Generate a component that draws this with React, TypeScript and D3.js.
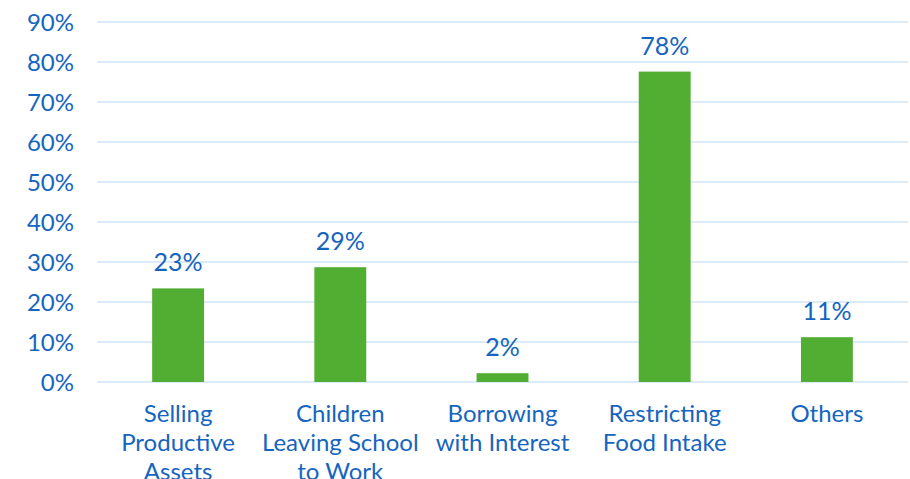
import React from "react";
import * as d3 from "d3";

const categories: string[][] = [
  ["Selling", "Productive", "Assets"],
  ["Children", "Leaving School", "to Work"],
  ["Borrowing", "with Interest"],
  ["Restricting", "Food Intake"],
  ["Others"],
];
const values: number[] = [23.4, 28.7, 2.2, 77.6, 11.2];
const valueLabels: string[] = ["23%", "29%", "2%", "78%", "11%"];
const yTicks: number[] = [0, 10, 20, 30, 40, 50, 60, 70, 80, 90];

const W = 910;
const H = 479;
const left = 97;
const right = 908;
const top = 22;
const bottom = 382;
const blue = "#1565c0";
const green = "#52ae32";
const grid = "#d0e4f8";
const font = "Lato, 'Open Sans', sans-serif";

export default function App() {
  const x = d3
    .scaleBand<number>()
    .domain(values.map((_, i) => i))
    .range([left, right])
    .paddingInner(0.68)
    .paddingOuter(0.34);
  const y = d3.scaleLinear().domain([0, 90]).range([bottom, top]);
  const bw = x.bandwidth();
  return (
    <svg
      width={W}
      height={H}
      style={{ position: "absolute", left: 0, top: 0, display: "block" }}
      fontFamily={font}
    >
      {yTicks.map((t) => (
        <g key={t}>
          <line x1={left} x2={right} y1={y(t)} y2={y(t)} stroke={grid} strokeWidth={1.5} />
          <text x={74} y={y(t)} dy="0.36em" textAnchor="end" fontSize={24} fill={blue}>
            {t}%
          </text>
        </g>
      ))}
      {values.map((v, i) => (
        <g key={i}>
          <rect x={x(i)} y={y(v)} width={bw} height={y(0) - y(v)} fill={green} />
          <text
            x={(x(i) as number) + bw / 2}
            y={y(v) - 17}
            textAnchor="middle"
            fontSize={25}
            fill={blue}
          >
            {valueLabels[i]}
          </text>
          {categories[i].map((line, j) => (
            <text
              key={j}
              x={(x(i) as number) + bw / 2}
              y={422 + j * 29}
              textAnchor="middle"
              fontSize={24}
              fill={blue}
            >
              {line}
            </text>
          ))}
        </g>
      ))}
    </svg>
  );
}
